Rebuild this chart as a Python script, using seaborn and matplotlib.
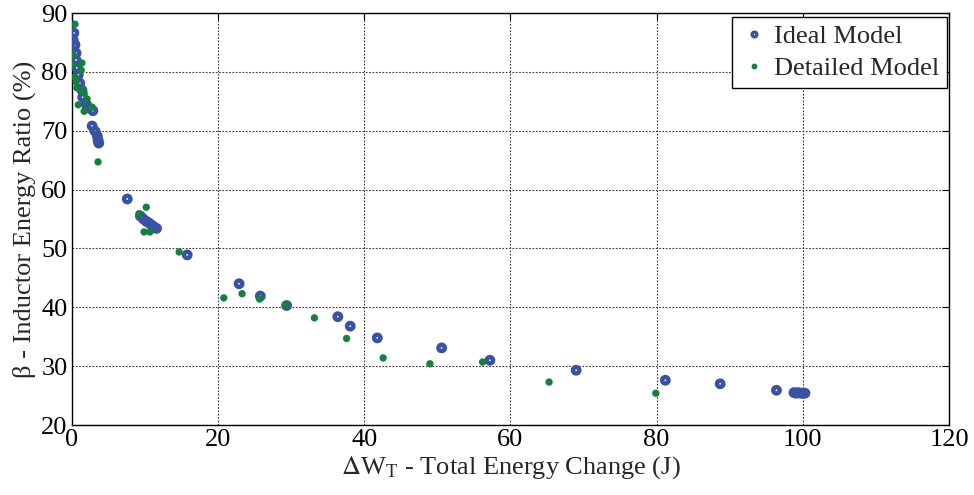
import matplotlib
matplotlib.use("Agg")
import matplotlib.pyplot as plt
from matplotlib.lines import Line2D
import seaborn as sns
import pandas as pd

# Ideal model: total energy change (J) vs inductor energy ratio (%)
ideal_dw = [0.3, 0.2, 0.45, 0.6, 0.6, 0.7, 0.9, 1.1, 1.4, 1.5, 2.0, 2.2, 2.9,
            2.8, 3.2, 3.5, 3.6, 3.7,
            7.6, 9.4, 9.8, 10.2, 10.6, 11.0, 11.3, 11.6,
            15.8, 22.9, 25.8, 29.4, 36.4, 38.1, 41.8, 50.6, 57.2, 69.0,
            81.2, 88.7, 96.4, 98.8, 99.1, 99.4, 99.7, 100.0, 100.3]
ideal_beta = [86.6, 85.4, 84.6, 83.2, 82.0, 80.7, 79.5, 78.1, 76.9, 75.7, 74.5, 73.9, 73.4,
              70.8, 69.9, 69.1, 68.4, 67.9,
              58.4, 55.5, 55.0, 54.6, 54.3, 53.9, 53.6, 53.4,
              48.9, 44.0, 41.9, 40.3, 38.4, 36.8, 34.8, 33.1, 31.0, 29.3,
              27.6, 27.0, 25.9, 25.5, 25.4, 25.5, 25.4, 25.4, 25.4]

# Detailed model
detailed_dw = [0.45, 0.2, 0.2, 1.4, 1.3, 0.45, 0.6, 0.7, 1.5, 1.7, 2.1, 0.9, 1.7,
               2.8, 3.6, 9.2, 10.2, 9.9, 10.7, 14.7, 20.8, 23.3, 25.7, 29.3,
               33.2, 37.6, 42.6, 49.0, 56.2, 65.3, 79.9]
detailed_beta = [88.1, 82.9, 81.2, 81.5, 80.3, 79.1, 78.3, 77.3, 76.9, 76.4, 75.4, 74.4, 73.3,
                 74.0, 64.7, 55.9, 57.0, 52.8, 52.8, 49.4, 41.6, 42.3, 41.4, 40.4,
                 38.2, 34.7, 31.4, 30.4, 30.7, 27.3, 25.4]

x_ticks = [0, 20, 40, 60, 80, 100, 120]
y_ticks = [20, 30, 40, 50, 60, 70, 80, 90]

ideal = pd.DataFrame({"dw": ideal_dw, "beta": ideal_beta})
detailed = pd.DataFrame({"dw": detailed_dw, "beta": detailed_beta})

sns.set_style("white")
plt.rcParams["font.family"] = ["Liberation Serif", "DejaVu Serif"]
plt.rcParams["mathtext.fontset"] = "stix"

blue = "#3A52A3"
green = "#168040"

fig = plt.figure(figsize=(9.74, 4.95), dpi=100)
ax = fig.add_axes([71.7 / 974, 1 - 425 / 495, (949 - 71.7) / 974, (425 - 13) / 495])

sns.scatterplot(data=ideal, x="dw", y="beta", ax=ax, marker="o", s=21,
                facecolors="none", edgecolors=blue, linewidths=3.2,
                legend=False, zorder=3)
sns.scatterplot(data=detailed, x="dw", y="beta", ax=ax, marker="o", s=28,
                color=green, edgecolor="none", linewidth=0,
                legend=False, zorder=4)

ax.set_xlim(0, 120)
ax.set_ylim(20, 90)
ax.set_xticks(x_ticks)
ax.set_yticks(y_ticks)
ax.tick_params(axis="both", which="both", direction="in", length=5, width=0.8,
               labelsize=19, top=True, right=True, pad=3, colors="black")
ax.grid(True, linestyle=(0, (1.5, 1.5)), color="#333333", linewidth=0.8)
for sp in ax.spines.values():
    sp.set_color("black")
    sp.set_linewidth(1.0)

ax.set_xlabel(r"$\Delta$W$_\mathregular{T}$ - Total Energy Change (J)", fontsize=19, labelpad=2)
ax.set_ylabel("\u03b2 - Inductor Energy Ratio (%)", fontsize=19, labelpad=4)

handles = [
    Line2D([], [], linestyle="none", marker="o", markersize=3.4,
           markerfacecolor="none", markeredgecolor=blue, markeredgewidth=2.4),
    Line2D([], [], linestyle="none", marker="o", markersize=4.2,
           markerfacecolor=green, markeredgecolor="none"),
]
leg = ax.legend(handles, ["Ideal Model", "Detailed Model"], loc="upper right",
                bbox_to_anchor=(947 / 974, 1 - 17 / 495), bbox_transform=fig.transFigure,
                fontsize=19, frameon=True, fancybox=False, edgecolor="black",
                framealpha=1, borderaxespad=0, handletextpad=0.27, borderpad=0.3,
                labelspacing=0.3, handlelength=1.0)
leg.get_frame().set_linewidth(1.0)

fig.savefig("out.png", dpi=100)
